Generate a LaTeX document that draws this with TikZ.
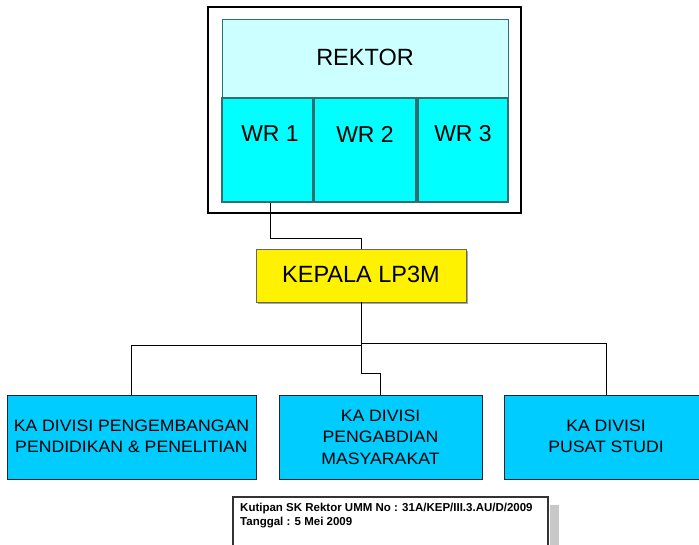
\documentclass[tikz,border=0pt]{standalone}
\usepackage{fontspec}
\setmainfont{Liberation Sans}
\newfontfamily\divfont[FakeStretch=1.07]{Liberation Sans}
\usetikzlibrary{calc}
\definecolor{rekcol}{HTML}{CCFFFF}
\definecolor{wrcol}{HTML}{00FFFF}
\definecolor{wrline}{HTML}{2F6F6F}
\definecolor{divcol}{HTML}{00CCFF}
\definecolor{shadowcol}{HTML}{C8C8C8}
\tikzset{
  wrbox/.style={draw=wrline, line width=1.2pt, fill=wrcol, inner sep=0pt},
  divbox/.style={draw=black!85, line width=0.9pt, fill=divcol, inner sep=0pt},
  divtext/.style={font=\divfont\fontsize{16.5}{21.5}\selectfont, align=center},
  bigtext/.style={font=\fontsize{23}{26}\selectfont},
  conn/.style={draw=black, line width=0.8pt},
}
\begin{document}
\begin{tikzpicture}[x=1pt,y=-1pt]
\useasboundingbox (0,0) rectangle (699,545);
% outer frame
\draw[line width=2pt] (208,7) rectangle (521,213);
% rektor
\node[draw=wrline, line width=1pt, fill=rekcol, minimum width=286pt, minimum height=78pt, inner sep=0pt] (rektor) at (365,59) {};
\node[font=\fontsize{23.5}{26}\selectfont] (rektortxt) at (365,57) {REKTOR};
% WR boxes
\node[wrbox, minimum width=91pt, minimum height=104pt] (wr1) at (267.5,150) {};
\node[wrbox, minimum width=102pt, minimum height=104pt] (wr2) at (365,150) {};
\node[wrbox, minimum width=90pt, minimum height=104pt] (wr3) at (463,150) {};
\node[bigtext] (wr1t) at (270,134) {WR 1};
\node[bigtext] (wr2t) at (365,134) {WR 2};
\node[bigtext] (wr3t) at (463,134) {WR 3};
% kepala
\fill[gray!70] (258,251) rectangle (468,304);
\node[draw=gray!80!black, line width=0.8pt, fill=yellow, minimum width=210pt, minimum height=53pt, inner sep=0pt] (kepala) at (361,275.5) {};
\node[font=\fontsize{23.5}{26}\selectfont] (kepalat) at (361,274) {KEPALA LP3M};
% divisions
\node[divbox, minimum width=249pt, minimum height=84pt] (div1) at (131.5,437) {};
\node[divbox, minimum width=203pt, minimum height=84pt] (div2) at (380.5,437) {};
\node[divbox, minimum width=220pt, minimum height=84pt] (div3) at (614,437) {};
\node[divtext] (d1t) at (131.5,436.5) {KA DIVISI PENGEMBANGAN\\PENDIDIKAN \& PENELITIAN};
\node[divtext] (d2t) at (380.5,437) {KA DIVISI\\PENGABDIAN\\MASYARAKAT};
\node[divtext] (d3t) at (606,436.5) {KA DIVISI\\PUSAT STUDI};
% connectors
\coordinate (jl) at (361,345);
\coordinate (jr) at (361,343);
\draw[conn] (wr1.south -| wr1t) -- ++(0,36) -| (kepala.north);
\draw[conn] (kepala.south) -- (jl) -| (131.5,395) -- (div1.north -| 131.5,0);
\draw[conn] (jr) -| (606,395);
\draw[conn] (kepala.south) -- ++(0,71) -| (div2.north);
% note
\fill[shadowcol] (550,505) rectangle (559,560);
\node[draw=black!80, line width=1.4pt, fill=white, minimum width=315pt, minimum height=64pt, inner sep=0pt] (note) at (390.5,529) {};
\node[font=\bfseries\fontsize{11.5}{13.5}\selectfont, align=left, anchor=north west, inner sep=0pt] (notet) at (240,503) {Kutipan SK Rektor UMM No : 31A/KEP/III.3.AU/D/2009\\Tanggal : 5 Mei 2009};
\end{tikzpicture}
\end{document}
